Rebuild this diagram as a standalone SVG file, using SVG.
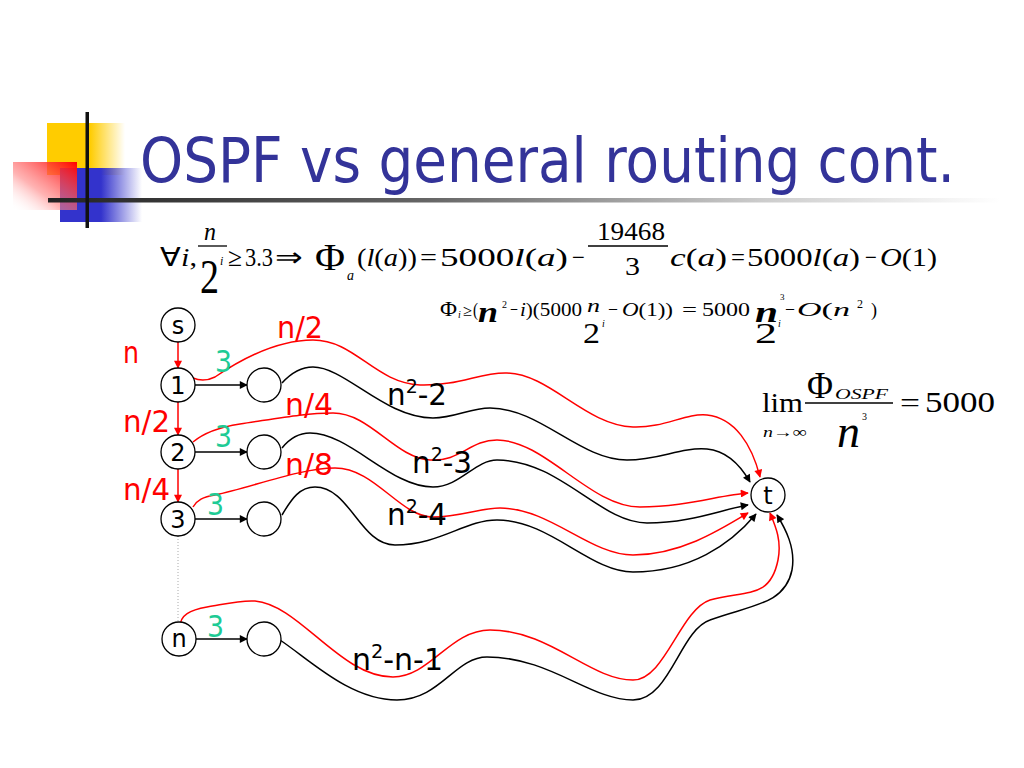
<svg xmlns="http://www.w3.org/2000/svg" width="1024" height="768" viewBox="0 0 1024 768">
<defs>
<style>
.title{font-family:"DejaVu Sans","Liberation Sans",sans-serif;font-size:62px;fill:#333399}
.lbl{font-family:"DejaVu Sans","Liberation Sans",sans-serif}
.red{fill:#ff0000;font-size:31px}
.grn{fill:#1ecb95;font-size:30px}
.blk{fill:#000;font-size:31px}
.nd{font-family:"DejaVu Sans","Liberation Sans",sans-serif;font-size:24px;fill:#000;text-anchor:middle}
.m{font-family:"Liberation Serif","Times New Roman",serif;fill:#000}
.it{font-style:italic}
.circ{fill:#fff;stroke:#000;stroke-width:1.3}
.cb{fill:none;stroke:#000;stroke-width:1.5}
.cr{fill:none;stroke:#ff0000;stroke-width:1.5}
</style>
<marker id="ab" viewBox="0 0 10 10" refX="9" refY="5" markerWidth="9" markerHeight="8" markerUnits="userSpaceOnUse" orient="auto"><path d="M0,0 L10,5 L0,10 z" fill="#000"/></marker>
<marker id="ar" viewBox="0 0 10 10" refX="9" refY="5" markerWidth="9" markerHeight="8" markerUnits="userSpaceOnUse" orient="auto"><path d="M0,0 L10,5 L0,10 z" fill="#ff0000"/></marker>
<linearGradient id="gy" x1="0" y1="0" x2="1" y2="0"><stop offset="0" stop-color="#ffcc00"/><stop offset="0.55" stop-color="#ffcc00"/><stop offset="1" stop-color="#ffcc00" stop-opacity="0"/></linearGradient>
<linearGradient id="gb" x1="0" y1="0" x2="1" y2="0"><stop offset="0" stop-color="#3333cc"/><stop offset="0.5" stop-color="#3333cc"/><stop offset="1" stop-color="#3333cc" stop-opacity="0"/></linearGradient>
<linearGradient id="gr" x1="1" y1="0" x2="0" y2="1"><stop offset="0" stop-color="#ff0000"/><stop offset="0.6" stop-color="#ff8080" stop-opacity="0.6"/><stop offset="1" stop-color="#ffffff" stop-opacity="0"/></linearGradient>
<linearGradient id="gl" x1="0" y1="0" x2="1" y2="0"><stop offset="0" stop-color="#222"/><stop offset="0.4" stop-color="#666"/><stop offset="0.75" stop-color="#ccc"/><stop offset="1" stop-color="#fff"/></linearGradient>
</defs>
<rect width="1024" height="768" fill="#fff"/>

<g id="logo">
<rect x="47" y="123" width="78" height="52" fill="url(#gy)"/>
<rect x="60" y="168" width="82" height="54" fill="url(#gb)"/>
<rect x="13" y="162" width="64" height="48" fill="url(#gr)"/>
<rect x="48" y="198" width="952" height="4.5" fill="url(#gl)"/>
<rect x="85.5" y="112" width="3.5" height="116" fill="#111"/>
</g>

<text class="title" x="140" y="182" textLength="815" lengthAdjust="spacingAndGlyphs">OSPF vs general routing cont.</text>

<g id="formula1" class="m">
<text x="160" y="266" font-size="26" textLength="37" lengthAdjust="spacingAndGlyphs">∀<tspan class="it">i</tspan>,</text>
<text x="204" y="240" font-size="26" class="it" textLength="12" lengthAdjust="spacingAndGlyphs">n</text>
<line x1="198" y1="246" x2="227" y2="246" stroke="#000" stroke-width="1.3"/>
<text x="200" y="293" font-size="48" textLength="19" lengthAdjust="spacingAndGlyphs">2</text>
<text x="220" y="265" font-size="12" class="it">i</text>
<text x="228" y="266" font-size="26" textLength="14" lengthAdjust="spacingAndGlyphs">≥</text>
<text x="245" y="266" font-size="26" textLength="28" lengthAdjust="spacingAndGlyphs">3.3</text>
<text x="275" y="266" font-size="26" textLength="28" lengthAdjust="spacingAndGlyphs">⇒</text>
<text x="315" y="270" font-size="38" textLength="30" lengthAdjust="spacingAndGlyphs">Φ</text>
<text x="347" y="280" font-size="14" class="it">a</text>
<text x="357" y="266" font-size="26" textLength="60" lengthAdjust="spacingAndGlyphs">(<tspan class="it">l</tspan>(<tspan class="it">a</tspan>))</text>
<text x="420" y="266" font-size="26" textLength="17" lengthAdjust="spacingAndGlyphs">=</text>
<text x="440" y="266" font-size="26" textLength="128" lengthAdjust="spacingAndGlyphs">5000<tspan class="it">l</tspan>(<tspan class="it">a</tspan>)</text>
<text x="572" y="266" font-size="26" textLength="13" lengthAdjust="spacingAndGlyphs">−</text>
<text x="597" y="240" font-size="26" textLength="68" lengthAdjust="spacingAndGlyphs">19468</text>
<line x1="588" y1="246" x2="668" y2="246" stroke="#000" stroke-width="1.3"/>
<text x="625" y="275" font-size="26" textLength="15" lengthAdjust="spacingAndGlyphs">3</text>
<text x="670" y="266" font-size="26" textLength="57" lengthAdjust="spacingAndGlyphs"><tspan class="it">c</tspan>(<tspan class="it">a</tspan>)</text>
<text x="731" y="266" font-size="26" textLength="14" lengthAdjust="spacingAndGlyphs">=</text>
<text x="747" y="266" font-size="26" textLength="113" lengthAdjust="spacingAndGlyphs">5000<tspan class="it">l</tspan>(<tspan class="it">a</tspan>)</text>
<text x="865" y="266" font-size="26" textLength="12" lengthAdjust="spacingAndGlyphs">−</text>
<text x="880" y="266" font-size="26" textLength="57" lengthAdjust="spacingAndGlyphs"><tspan class="it">O</tspan>(1)</text>
</g>

<g id="formula2" class="m">
<text x="440" y="316" font-size="22" textLength="17" lengthAdjust="spacingAndGlyphs">Φ</text>
<text x="458" y="318" font-size="10" class="it">i</text>
<text x="463" y="316" font-size="16" textLength="9" lengthAdjust="spacingAndGlyphs">≥</text>
<text x="473" y="316" font-size="19" textLength="5" lengthAdjust="spacingAndGlyphs">(</text>
<text x="478" y="322" font-size="30" font-weight="bold" class="it" textLength="20" lengthAdjust="spacingAndGlyphs">n</text>
<text x="502" y="308" font-size="10">2</text>
<text x="510" y="316" font-size="19" textLength="8" lengthAdjust="spacingAndGlyphs">−</text>
<text x="520" y="316" font-size="19" textLength="62" lengthAdjust="spacingAndGlyphs"><tspan class="it">i</tspan>)(5000</text>
<text x="587" y="312" font-size="19" class="it" textLength="13" lengthAdjust="spacingAndGlyphs">n</text>
<text x="583" y="343" font-size="30" textLength="17" lengthAdjust="spacingAndGlyphs">2</text>
<text x="602" y="327" font-size="10" class="it">i</text>
<text x="608" y="316" font-size="19" textLength="10" lengthAdjust="spacingAndGlyphs">−</text>
<text x="622" y="316" font-size="19" textLength="51" lengthAdjust="spacingAndGlyphs"><tspan class="it">O</tspan>(1))</text>
<text x="682" y="316" font-size="19" textLength="15" lengthAdjust="spacingAndGlyphs">=</text>
<text x="702" y="316" font-size="19" textLength="48" lengthAdjust="spacingAndGlyphs">5000</text>
<text x="755" y="322" font-size="30" font-weight="bold" class="it" textLength="23" lengthAdjust="spacingAndGlyphs">n</text>
<text x="780" y="300" font-size="9">3</text>
<text x="755" y="343" font-size="30" textLength="22" lengthAdjust="spacingAndGlyphs">2</text>
<text x="778" y="327" font-size="10" class="it">i</text>
<text x="785" y="316" font-size="19" textLength="10" lengthAdjust="spacingAndGlyphs">−</text>
<text x="797" y="316" font-size="19" textLength="53" lengthAdjust="spacingAndGlyphs"><tspan class="it">O</tspan>(<tspan class="it">n</tspan></text>
<text x="857" y="308" font-size="12">2</text>
<text x="871" y="316" font-size="19" textLength="6" lengthAdjust="spacingAndGlyphs">)</text>
</g>

<g id="formula3" class="m">
<text x="762" y="412" font-size="27" textLength="41" lengthAdjust="spacingAndGlyphs">lim</text>
<text x="763" y="437" font-size="15" textLength="44" lengthAdjust="spacingAndGlyphs"><tspan class="it">n</tspan>→∞</text>
<text x="807" y="398" font-size="38" textLength="26" lengthAdjust="spacingAndGlyphs">Φ</text>
<text x="835" y="399" font-size="15" class="it" textLength="53" lengthAdjust="spacingAndGlyphs">OSPF</text>
<line x1="805" y1="403" x2="893" y2="403" stroke="#000" stroke-width="1.4"/>
<text x="862" y="420" font-size="10">3</text>
<text x="837" y="447" font-size="46" class="it" textLength="23" lengthAdjust="spacingAndGlyphs">n</text>
<text x="900" y="412" font-size="27" textLength="20" lengthAdjust="spacingAndGlyphs">=</text>
<text x="925" y="412" font-size="30" textLength="70" lengthAdjust="spacingAndGlyphs">5000</text>
</g>

<g id="connectors">
<line x1="178" y1="342" x2="178" y2="368" stroke="#ff0000" stroke-width="1.5" marker-end="url(#ar)"/>
<line x1="178" y1="402" x2="178" y2="435" stroke="#ff0000" stroke-width="1.5" marker-end="url(#ar)"/>
<line x1="178" y1="469" x2="178" y2="502" stroke="#ff0000" stroke-width="1.5" marker-end="url(#ar)"/>
<line x1="178" y1="536" x2="178" y2="622" stroke="#aaa" stroke-width="1" stroke-dasharray="1,2"/>
<line x1="195" y1="385" x2="247" y2="385" stroke="#000" stroke-width="1.5" marker-end="url(#ab)"/>
<line x1="195" y1="452" x2="247" y2="452" stroke="#000" stroke-width="1.5" marker-end="url(#ab)"/>
<line x1="195" y1="519" x2="247" y2="519" stroke="#000" stroke-width="1.5" marker-end="url(#ab)"/>
<line x1="196" y1="639" x2="247" y2="639" stroke="#000" stroke-width="1.5" marker-end="url(#ab)"/>
<path class="cr" marker-end="url(#ar)" d="M193,378 C200,381 207,381 215,377 C240,360 275,340 313,340 C355,340 375,383 420,385 C460,386 480,372 507,373 C550,374 585,425 633,427 C665,428 685,413 707,415 C735,418 752,445 760,477"/>
<path class="cb" marker-end="url(#ab)" d="M282,383 C292,372 302,367 313,367 C345,367 385,418 433,418 C455,418 470,408 490,408 C540,408 580,460 627,460 C660,460 680,447 707,449 C728,451 742,468 750,482"/>
<path class="cr" marker-end="url(#ar)" d="M193,442 C205,432 220,427 240,424 C280,418 305,413 333,413 C370,413 395,458 430,460 C460,462 470,440 497,440 C545,440 590,507 640,507 C685,507 720,495 748,493"/>
<path class="cb" marker-end="url(#ab)" d="M282,448 C290,438 298,433 310,433 C350,433 390,487 433,487 C460,487 475,460 497,460 C560,460 600,523 647,523 C690,523 720,510 748,505"/>
<path class="cr" marker-end="url(#ar)" d="M193,507 C197,500 203,497 215,495 C250,488 300,468 335,468 C375,468 400,517 433,517 C460,517 480,508 500,508 C550,508 590,555 633,555 C680,555 720,530 748,513"/>
<path class="cb" marker-end="url(#ab)" d="M282,515 C292,498 300,487 315,487 C350,487 360,545 395,545 C440,545 465,520 497,520 C550,520 590,572 633,572 C690,572 730,545 756,514"/>
<path class="cr" marker-end="url(#ar)" d="M180,627 C180,615 190,610 207,607 C225,604 240,600 255,601 C300,605 340,677 393,677 C430,677 450,630 490,630 C550,630 590,680 633,680 C665,680 680,610 710,600 C745,590 770,600 778,560 C782,540 775,525 770,513"/>
<path class="cb" marker-end="url(#ab)" d="M280,640 C310,660 350,700 397,700 C440,700 455,657 487,657 C550,657 590,700 633,700 C670,700 680,630 710,620 C750,605 785,605 792,570 C796,548 785,528 777,515"/>
</g>

<g id="node-s"><circle class="circ" cx="178" cy="325" r="17"/><text class="nd" x="178" y="334">s</text></g>
<g id="node-1"><circle class="circ" cx="178" cy="385" r="17"/><text class="nd" x="178" y="394">1</text></g>
<g id="node-2"><circle class="circ" cx="178" cy="452" r="17"/><text class="nd" x="178" y="461">2</text></g>
<g id="node-3"><circle class="circ" cx="178" cy="519" r="17"/><text class="nd" x="178" y="528">3</text></g>
<g id="node-n"><circle class="circ" cx="179" cy="639" r="17"/><text class="nd" x="179" y="647">n</text></g>
<g id="node-e1"><circle class="circ" cx="264" cy="385" r="17"/></g>
<g id="node-e2"><circle class="circ" cx="264" cy="452" r="17"/></g>
<g id="node-e3"><circle class="circ" cx="264" cy="519" r="17"/></g>
<g id="node-en"><circle class="circ" cx="264" cy="639" r="17"/></g>
<g id="node-t"><circle class="circ" cx="768" cy="495" r="17"/><text class="nd" x="768" y="504">t</text></g>

<g id="labels" class="lbl">
<text class="red" x="123" y="363" textLength="16" lengthAdjust="spacingAndGlyphs">n</text>
<text class="red" x="123" y="432" textLength="47" lengthAdjust="spacingAndGlyphs">n/2</text>
<text class="red" x="123" y="500" textLength="47" lengthAdjust="spacingAndGlyphs">n/4</text>
<text class="red" x="277" y="338" textLength="46" lengthAdjust="spacingAndGlyphs">n/2</text>
<text class="red" x="285" y="415" textLength="48" lengthAdjust="spacingAndGlyphs">n/4</text>
<text class="red" x="285" y="475" textLength="48" lengthAdjust="spacingAndGlyphs">n/8</text>
<text class="grn" x="215" y="372" textLength="17" lengthAdjust="spacingAndGlyphs">3</text>
<text class="grn" x="215" y="447" textLength="17" lengthAdjust="spacingAndGlyphs">3</text>
<text class="grn" x="207" y="515" textLength="17" lengthAdjust="spacingAndGlyphs">3</text>
<text class="grn" x="207" y="637" textLength="17" lengthAdjust="spacingAndGlyphs">3</text>
<text class="blk" x="387" y="405" textLength="60" lengthAdjust="spacingAndGlyphs">n<tspan font-size="20" dy="-12">2</tspan><tspan dy="12">-2</tspan></text>
<text class="blk" x="412" y="473" textLength="60" lengthAdjust="spacingAndGlyphs">n<tspan font-size="20" dy="-12">2</tspan><tspan dy="12">-3</tspan></text>
<text class="blk" x="387" y="525" textLength="60" lengthAdjust="spacingAndGlyphs">n<tspan font-size="20" dy="-12">2</tspan><tspan dy="12">-4</tspan></text>
<text class="blk" x="352" y="670" textLength="91" lengthAdjust="spacingAndGlyphs">n<tspan font-size="20" dy="-12">2</tspan><tspan dy="12">-n-1</tspan></text>
</g>
</svg>
